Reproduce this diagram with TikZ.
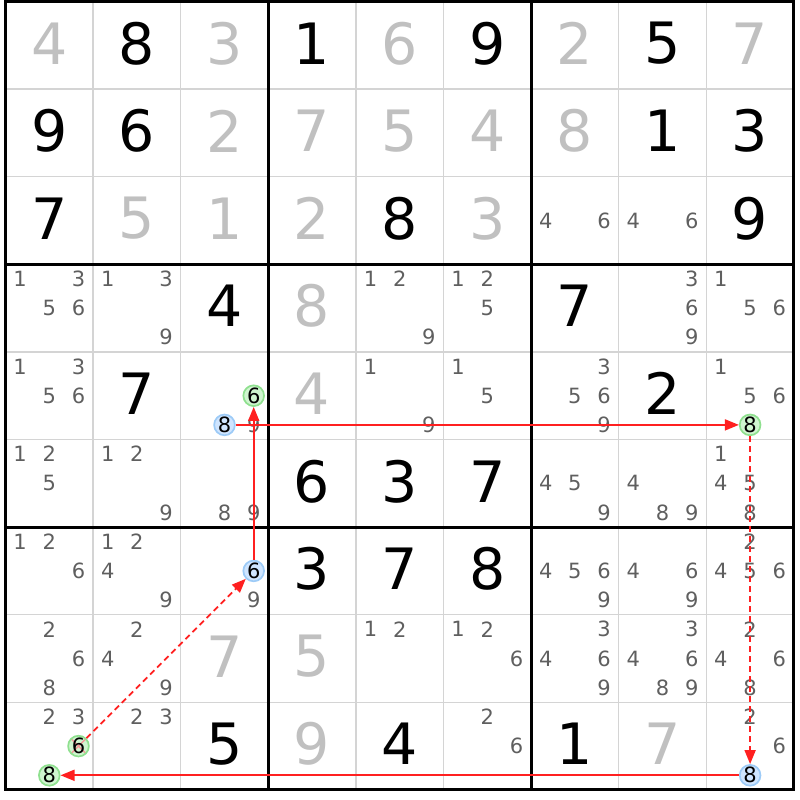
\documentclass[tikz,border=0pt]{standalone}
\usepackage{fontspec}
\setmainfont{DejaVu Sans}
\usetikzlibrary{arrows.meta}
\definecolor{cellline}{HTML}{D4D4D4}
\definecolor{faded}{HTML}{C0C0C0}
\definecolor{pencil}{HTML}{5F5F5F}
\definecolor{onfill}{HTML}{CFF5CF}
\definecolor{ondraw}{HTML}{8FE08F}
\definecolor{offfill}{HTML}{CFE5FF}
\definecolor{offdraw}{HTML}{9DCBF7}
\definecolor{linkred}{HTML}{FF2020}
\definecolor{crossred}{HTML}{F29A9A}

\begin{document}
\begin{tikzpicture}[x=87.6pt, y=-87.6pt,
    given/.style={font=\fontsize{57}{57}\selectfont, inner sep=0pt, yshift=2pt},
    placed/.style={given, text=faded},
    pencilmark/.style={font=\fontsize{21}{21}\selectfont, text=pencil, inner sep=0pt},
    hlon/.style={circle, draw=ondraw, fill=onfill, line width=1.7pt, minimum size=20.5pt,
      inner sep=0pt, font=\fontsize{21}{21}\selectfont},
    hloff/.style={hlon, draw=offdraw, fill=offfill},
    crossed/.style={path picture={
      \draw[crossred, line width=1.4pt] (path picture bounding box.south west) -- (path picture bounding box.north east)
        (path picture bounding box.north west) -- (path picture bounding box.south east);}},
    strong/.style={-{Triangle[length=14pt,width=11pt]}, draw=linkred, line width=1.8pt},
    weak/.style={strong, dash pattern=on 6pt off 4pt}]
  \useasboundingbox (-5.5pt,1.5pt) rectangle (794.5pt,-798.5pt);

  % grid
  \foreach \i in {1,2,4,5,7,8} {
    \draw[cellline, line width=1.5pt] (\i,0) -- (\i,9);
    \draw[cellline, line width=1.5pt] (0,\i) -- (9,\i);
  }
  \foreach \i in {3,6} {
    \draw[line width=3pt] (\i,0) -- (\i,9);
    \draw[line width=3pt] (0,\i) -- (9,\i);
  }
  \draw[line width=3pt] (0,0) rectangle (9,9);

  % givens and placed digits
  \foreach \r/\c/\d in {1/2/8, 1/4/1, 1/6/9, 1/8/5, 2/1/9, 2/2/6, 2/8/1, 2/9/3,
      3/1/7, 3/5/8, 3/9/9, 4/3/4, 4/7/7, 5/2/7, 5/8/2, 6/4/6, 6/5/3, 6/6/7,
      7/4/3, 7/5/7, 7/6/8, 9/3/5, 9/5/4, 9/7/1}
    \node[given] (g\r\c) at (\c-0.5,\r-0.5) {\d};
  \foreach \r/\c/\d in {1/1/4, 1/3/3, 1/5/6, 1/7/2, 1/9/7, 2/3/2, 2/4/7, 2/5/5,
      2/6/4, 2/7/8, 3/2/5, 3/3/1, 3/4/2, 3/6/3, 4/4/8, 5/4/4, 8/3/7, 8/4/5,
      9/4/9, 9/8/7}
    \node[placed] (g\r\c) at (\c-0.5,\r-0.5) {\d};

  % candidates
  \foreach \r/\c/\ds in {3/7/{4,6}, 3/8/{4,6},
      4/1/{1,3,5,6}, 4/2/{1,3,9}, 4/5/{1,2,9}, 4/6/{1,2,5}, 4/8/{3,6,9}, 4/9/{1,5,6},
      5/1/{1,3,5,6}, 5/3/{9}, 5/5/{1,9}, 5/6/{1,5}, 5/7/{3,5,6,9}, 5/9/{1,5,6},
      6/1/{1,2,5}, 6/2/{1,2,9}, 6/3/{8,9}, 6/7/{4,5,9}, 6/8/{4,8,9}, 6/9/{1,4,5,8},
      7/1/{1,2,6}, 7/2/{1,2,4,9}, 7/3/{9}, 7/7/{4,5,6,9}, 7/8/{4,6,9}, 7/9/{2,4,5,6},
      8/1/{2,6,8}, 8/2/{2,4,9}, 8/5/{1,2}, 8/6/{1,2,6}, 8/7/{3,4,6,9}, 8/8/{3,4,6,8,9},
      8/9/{2,4,6,8}, 9/1/{2,3}, 9/2/{2,3}, 9/6/{2,6}, 9/9/{2,6}}
    \foreach \d in \ds {
      \pgfmathsetmacro\px{\c-1+(mod(\d-1,3)+.5)/3}
      \pgfmathsetmacro\py{\r-1+(int((\d-1)/3)+.5)/3}
      \node[pencilmark] (k\r\c\d) at (\px,\py) {\d};
    }

  % chain
  \node[hlon] (h536) at (2.8333,4.5) {6};
  \node[hloff] (h538) at (2.5,4.8333) {8};
  \node[hloff] (h736) at (2.8333,6.5) {6};
  \node[hlon] (h598) at (8.5,4.8333) {8};
  \node[hloff] (h998) at (8.5,8.8333) {8};
  \node[hlon, crossed] (h916) at (0.8333,8.5) {6};
  \node[hlon] (h918) at (0.5,8.8333) {8};

  \draw[strong] (h538) -- (h598);
  \draw[weak] (h598) -- (h998);
  \draw[strong] (h998) -- (h918);
  \draw[weak] (h916) -- (h736);
  \draw[strong] (h736) -- (h536);
\end{tikzpicture}
\end{document}
